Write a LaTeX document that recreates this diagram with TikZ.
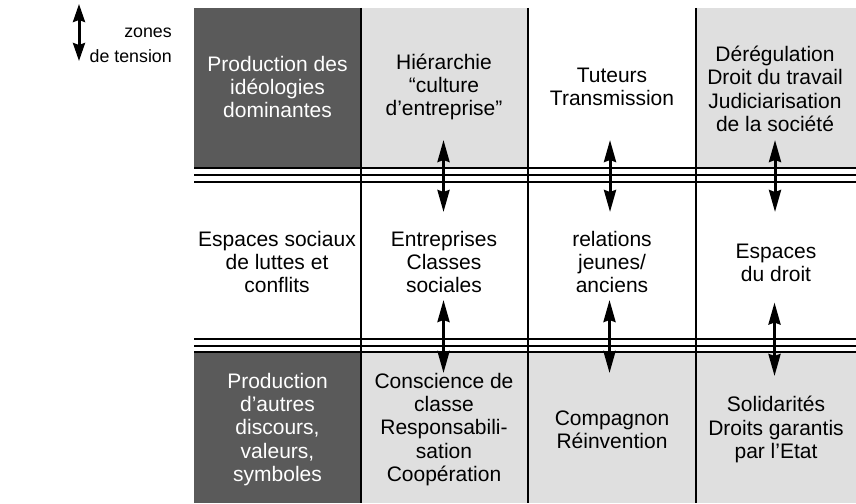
\documentclass[tikz,border=0pt]{standalone}
\usepackage{fontspec}
\setmainfont{Liberation Sans}
\usetikzlibrary{arrows.meta}
\definecolor{darkcell}{HTML}{5A5A5A}
\definecolor{lightcell}{HTML}{DFDFDF}
\begin{document}
\begin{tikzpicture}[x=1pt,y=-1pt,
  celltext/.style={font=\fontsize{21}{23.3}\selectfont, align=center, inner sep=0pt},
  darktext/.style={celltext, text=white},
  legendtext/.style={font=\fontsize{17.8}{25}\selectfont, align=right, inner sep=0pt},
  hrule/.style={line width=2pt, black},
  vrule/.style={line width=2.5pt, black},
  tensionarrow/.style={line width=3pt,
    {Stealth[length=22pt,width=12pt,inset=2pt]}-{Stealth[length=22pt,width=12pt,inset=2pt]}},
  legendarrow/.style={line width=3pt,
    {Stealth[length=18pt,width=12pt,inset=2pt]}-{Stealth[length=18pt,width=12pt,inset=2pt]}},
]
\useasboundingbox (0,0) rectangle (856,503);

% cell backgrounds
\fill[darkcell]  (194,8)   rectangle (361,168);
\fill[darkcell]  (194,352) rectangle (361,503);
\fill[lightcell] (361,8)   rectangle (528,168);
\fill[lightcell] (696,8)   rectangle (856,168);
\fill[lightcell] (361,352) rectangle (856,503);

% triple separators between the bands
\foreach \yy in {168.3,175,181.7,339.3,345.7,352}
  \draw[hrule] (194,\yy) -- (856,\yy);

% column separators
\foreach \xx in {361,528,696}
  \draw[vrule] (\xx,8) -- (\xx,503);

% legend
\coordinate (lgtop) at (79,4);
\coordinate (lgbot) at (79,61);
\draw[legendarrow] (lgtop) -- (lgbot);
\node[legendtext, anchor=east] (legend) at (172,45) {zones\\de tension};

% top band
\node[darktext] (ideo) at (277.5,87) {Production des\\idéologies\\dominantes};
\node[celltext] (hier) at (444,87) {Hiérarchie\\“culture\\d’entreprise”};
\node[celltext] (tut)  at (612,87) {Tuteurs\\Transmission};
\node[celltext] (dereg) at (775,89) {Dérégulation\\Droit du travail\\Judiciarisation\\de la société};

% middle band
\node[celltext] (luttes) at (277,262) {Espaces sociaux\\de luttes et\\conflits};
\node[celltext] (entr)   at (444,262) {Entreprises\\Classes\\sociales};
\node[celltext] (rel)    at (612,262) {relations\\jeunes/\\anciens};
\node[celltext] (droit)  at (776,263) {Espaces\\du droit};

% bottom band
\node[darktext] (autres) at (277.5,429.5) {Production\\d’autres\\discours,\\valeurs,\\symboles};
\node[celltext] (consc)  at (444,429.5) {Conscience de\\classe\\Responsabili-\\sation\\Coopération};
\node[celltext] (comp)   at (612,429.5) {Compagnon\\Réinvention};
\node[celltext] (solid)  at (776,429.5) {Solidarités\\Droits garantis\\par l’Etat};

% arrow ends across the upper separator
\coordinate (a1t) at (443.5,140); \coordinate (a1b) at (443.5,212);
\coordinate (a2t) at (610,140);   \coordinate (a2b) at (610,212);
\coordinate (a3t) at (775,140);   \coordinate (a3b) at (775,212);
% arrow ends across the lower separator
\coordinate (b1t) at (443.5,300); \coordinate (b1b) at (443.5,373);
\coordinate (b2t) at (609.5,300); \coordinate (b2b) at (609.5,373);
\coordinate (b3t) at (774.5,302.5); \coordinate (b3b) at (774.5,376);

\foreach \t/\b in {a1t/a1b,a2t/a2b,a3t/a3b,b1t/b1b,b2t/b2b,b3t/b3b}
  \draw[tensionarrow] (\t) -- (\b);
\end{tikzpicture}
\end{document}
